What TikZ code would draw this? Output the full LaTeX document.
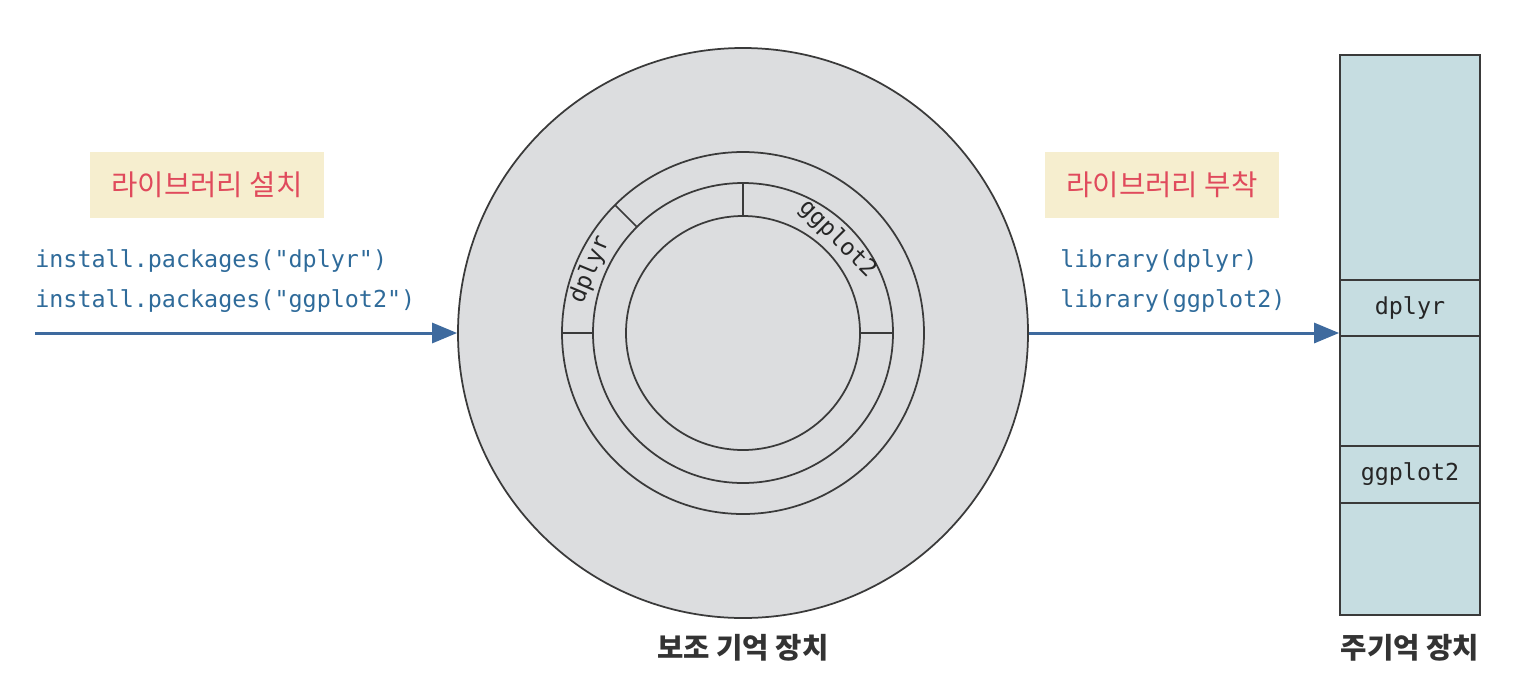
\documentclass[tikz,border=0pt]{standalone}
\usepackage{fontspec}
\setmonofont{DejaVu Sans Mono}
\newfontfamily\kr{Noto Sans CJK KR}
\usetikzlibrary{arrows.meta,calc,positioning}

\definecolor{diskgray}{HTML}{DCDDDF}
\definecolor{linegray}{HTML}{3A3A3A}
\definecolor{tagfill}{HTML}{F6EECF}
\definecolor{tagred}{HTML}{E04A5C}
\definecolor{codeblue}{HTML}{2F6B9A}
\definecolor{arrowblue}{HTML}{3E6A9E}
\definecolor{memblue}{HTML}{C6DDE1}

\tikzset{
  tag/.style={fill=tagfill,text=tagred,minimum width=46.8mm,minimum height=13.2mm,font=\kr\fontsize{16.3}{18}\selectfont},
  code/.style={anchor=west,text=codeblue,inner sep=0pt,font=\ttfamily\fontsize{13.3}{15}\selectfont},
  cell/.style={text=black!85,inner sep=0pt,font=\ttfamily\fontsize{13.3}{15}\selectfont},
  caption/.style={text=black!80,font=\kr\bfseries\fontsize{16.3}{18}\selectfont},
  flow/.style={arrowblue,line width=0.6mm,-{Triangle[length=5mm,width=4mm]}},
  ring/.style={linegray,line width=0.35mm}
}

\begin{document}
\begin{tikzpicture}[x=0.2mm,y=-0.2mm]
  \useasboundingbox (0,0) rectangle (1534,680);

  % left side
  \node[tag] (tagin) at (207,185) {라이브러리 설치};
  \node[code] (inst1) at (35,261) {install.packages("dplyr")};
  \node[code] (inst2) at (35,301) {install.packages("ggplot2")};
  \coordinate (instart) at (35,333);

  % disk
  \node[circle,draw=linegray,line width=0.35mm,fill=diskgray,minimum size=114mm,inner sep=0pt] (disk) at (743,333) {};
  \draw[ring] (disk.center) circle (36.2mm);
  \draw[ring] (disk.center) circle (30mm);
  \draw[ring] (disk.center) circle (23.4mm);
  \draw[ring] ($(disk.center)+(135:30mm)$) -- ($(disk.center)+(135:36.2mm)$);
  \draw[ring] ($(disk.center)+(180:30mm)$) -- ($(disk.center)+(180:36.2mm)$);
  \draw[ring] ($(disk.center)+(90:23.4mm)$) -- ($(disk.center)+(90:30mm)$);
  \draw[ring] ($(disk.center)+(0:23.4mm)$) -- ($(disk.center)+(0:30mm)$);
  \node[cell,rotate=67.5] (diskdp) at ($(disk.center)+(157.5:33.1mm)$) {dplyr};
  \node[cell,rotate=-45] (diskgg) at ($(disk.center)+(45:26.7mm)$) {ggplot2};
  \node[caption] (disklab) at (743,648) {보조 기억 장치};

  % right side
  \node[tag] (tagout) at (1162,185) {라이브러리 부착};
  \node[code] (lib1) at (1060,261) {library(dplyr)};
  \node[code] (lib2) at (1060,301) {library(ggplot2)};

  % main memory
  \node[draw=linegray,line width=0.35mm,fill=memblue,minimum width=28mm,minimum height=112mm,inner sep=0pt] (mem) at (1410,335) {};
  \foreach \yy in {280,336,446,503}
    \draw[ring] (mem.west |- 0,\yy) -- (mem.east |- 0,\yy);
  \node[cell] (memdp) at (1410,308) {dplyr};
  \node[cell] (memgg) at (1410,474) {ggplot2};
  \node[caption] (memlab) at (1410,648) {주기억 장치};

  % arrows
  \draw[flow] (instart) -- (disk.west);
  \draw[flow] (disk.east) -- (mem.west |- disk.east);
\end{tikzpicture}
\end{document}
